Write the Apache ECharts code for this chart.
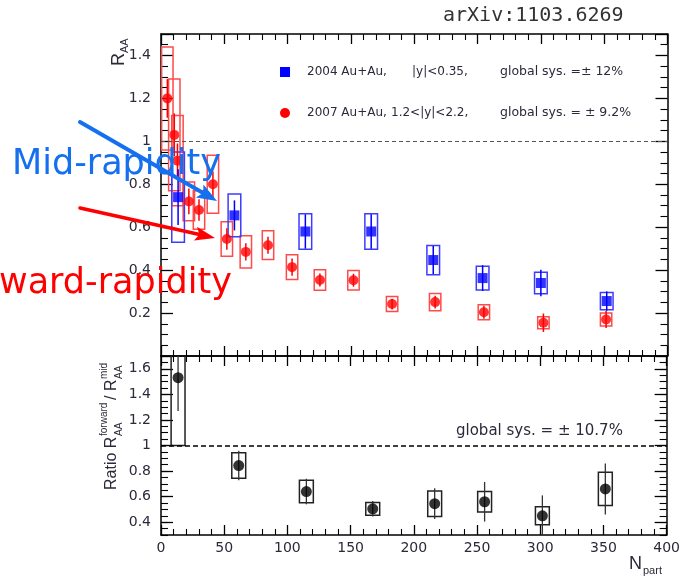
<!DOCTYPE html>
<html>
<head>
<meta charset="utf-8">
<script src="https://cdn.jsdelivr.net/npm/echarts@6/dist/echarts.min.js"></script>
<style>
  html, body { margin: 0; padding: 0; background: #fff; }
  #chart { width: 683px; height: 581px; }
</style>
</head>
<body>
<div id="chart"></div>
<script>
// 2004 Au+Au, |y|<0.35 (mid rapidity)
const midNpart = [13.5, 58, 114, 166, 215, 254, 300, 352];
const midRaa   = [0.74, 0.655, 0.58, 0.58, 0.447, 0.363, 0.34, 0.256];
const midStat  = [0.13, 0.07, 0.08, 0.08, 0.065, 0.06, 0.062, 0.045];
const midSys   = [0.21, 0.10, 0.083, 0.083, 0.068, 0.055, 0.05, 0.04];

// 2007 Au+Au, 1.2<|y|<2.2 (forward rapidity)
const fwdNpart = [5, 10.5, 13, 22, 30, 41, 52, 67, 84.5, 103.5, 125.5, 152, 182.5, 216.5, 255, 302, 351.5];
const fwdRaa   = [1.20, 1.03, 0.91, 0.72, 0.68, 0.80, 0.545, 0.485, 0.516, 0.414, 0.354, 0.353, 0.242, 0.251, 0.204, 0.155, 0.17];
const fwdStat  = [0.09, 0.10, 0.08, 0.06, 0.05, 0.06, 0.05, 0.04, 0.04, 0.04, 0.03, 0.03, 0.025, 0.03, 0.03, 0.043, 0.04];
const fwdSys   = [0.24, 0.26, 0.21, 0.09, 0.09, 0.135, 0.08, 0.075, 0.067, 0.058, 0.048, 0.045, 0.035, 0.04, 0.035, 0.028, 0.03];

// forward / mid ratio
const ratioNpart = [13.5, 61.5, 115, 167.5, 216.5, 256, 301.7, 351.5];
const ratioVal   = [1.53, 0.843, 0.64, 0.505, 0.545, 0.56, 0.45, 0.66];
const ratioStat  = [0.26, 0.115, 0.10, 0.06, 0.12, 0.155, 0.16, 0.20];
const ratioSys   = [0.53, 0.10, 0.088, 0.05, 0.10, 0.08, 0.07, 0.13];

// axis ticks
const ratioYTicks = [0.4, 0.6, 0.8, 1.0, 1.2, 1.4, 1.6];
const ratioYMinor = [0.3, 0.35, 0.4, 0.45, 0.5, 0.55, 0.6, 0.65, 0.7, 0.75, 0.8, 0.85, 0.9, 0.95, 1.0,
                     1.05, 1.1, 1.15, 1.2, 1.25, 1.3, 1.35, 1.4, 1.45, 1.5, 1.55, 1.6, 1.65, 1.7];

const FONT = 'DejaVu Sans';
const TXT = '#2a2a3a';
const BLUE = '#0000ff', RED = '#ff0000', BLACK = '#000';
const GRID_L = 161, GRID_W = 506.5;

const chart = echarts.init(document.getElementById('chart'), null, { renderer: 'canvas' });

function xAx(grid, pos, labels) {
  return {
    type: 'value', gridIndex: grid, position: pos, min: 0, max: 400, interval: 50,
    axisLine: { show: true, onZero: false, lineStyle: { color: BLACK, width: 1.5 } },
    axisTick: { show: true, inside: true, length: 10, lineStyle: { color: BLACK, width: 1.3 } },
    minorTick: { show: true, splitNumber: 5, length: 6, lineStyle: { color: BLACK, width: 1.1 } },
    axisLabel: { show: labels, margin: 6, color: TXT, fontSize: 14, fontFamily: FONT },
    splitLine: { show: false }, minorSplitLine: { show: false }
  };
}

function topY(pos, labels) {
  return {
    type: 'value', gridIndex: 0, position: pos, min: 0, max: 1.5, interval: 0.2,
    axisLine: { show: true, onZero: false, lineStyle: { color: BLACK, width: 1.5 } },
    axisTick: { show: true, inside: true, length: 12, lineStyle: { color: BLACK, width: 1.3 } },
    minorTick: { show: true, splitNumber: 4, length: 7, lineStyle: { color: BLACK, width: 1.1 } },
    axisLabel: { show: labels, margin: 10, color: TXT, fontSize: 14, fontFamily: FONT,
                 showMinLabel: false, showMaxLabel: false },
    splitLine: { show: false }, minorSplitLine: { show: false }
  };
}

function ratioY(pos, labels) {
  return {
    type: 'value', gridIndex: 1, position: pos, min: 0.3, max: 1.7,
    axisLine: { show: true, onZero: false, lineStyle: { color: BLACK, width: 1.5 } },
    axisTick: { show: true, inside: true, length: 12, customValues: ratioYTicks, lineStyle: { color: BLACK, width: 1.3 } },
    axisLabel: { show: labels, margin: 10, color: TXT, fontSize: 14, fontFamily: FONT, customValues: ratioYTicks },
    splitLine: { show: false }
  };
}

function ratioYMinorAxis(pos) {
  return {
    type: 'value', gridIndex: 1, position: pos, min: 0.3, max: 1.7,
    axisLine: { show: false, onZero: false },
    axisTick: { show: true, inside: true, length: 7, customValues: ratioYMinor, lineStyle: { color: BLACK, width: 1.1 } },
    axisLabel: { show: false },
    splitLine: { show: false }
  };
}

// systematic-uncertainty boxes
function boxSeries(xs, ys, sys, halfW, color, lw, xi, yi) {
  return {
    type: 'custom', xAxisIndex: xi, yAxisIndex: yi, clip: true, z: 2, silent: true,
    data: xs.map((x, i) => [x, ys[i], sys[i]]),
    renderItem(params, api) {
      const x = api.value(0), y = api.value(1), s = api.value(2);
      const p1 = api.coord([x - halfW, y + s]);
      const p2 = api.coord([x + halfW, y - s]);
      return {
        type: 'rect',
        shape: { x: p1[0], y: p1[1], width: p2[0] - p1[0], height: p2[1] - p1[1] },
        style: { fill: 'none', stroke: color, lineWidth: lw }
      };
    }
  };
}

// statistical error bars
function errSeries(xs, ys, err, color, lw, xi, yi) {
  return {
    type: 'custom', xAxisIndex: xi, yAxisIndex: yi, clip: true, z: 3, silent: true,
    data: xs.map((x, i) => [x, ys[i], err[i]]),
    renderItem(params, api) {
      const x = api.value(0), y = api.value(1), e = api.value(2);
      const a = api.coord([x, y + e]);
      const b = api.coord([x, y - e]);
      return {
        type: 'line',
        shape: { x1: a[0], y1: a[1], x2: b[0], y2: b[1] },
        style: { stroke: color, lineWidth: lw }
      };
    }
  };
}

function arrow(x1, y1, x2, y2, color, width, headLen, headW) {
  const ang = Math.atan2(y2 - y1, x2 - x1);
  const c = Math.cos(ang), s = Math.sin(ang);
  const bx = x2 - headLen * c, by = y2 - headLen * s;
  const nx = -s, ny = c;
  return [
    { type: 'line', z: 100, shape: { x1: x1, y1: y1, x2: bx + c * 3, y2: by + s * 3 },
      style: { stroke: color, lineWidth: width, lineCap: 'round' } },
    { type: 'polygon', z: 100,
      shape: { points: [[x2, y2], [bx + nx * headW / 2, by + ny * headW / 2], [bx + c * 4, by + s * 4], [bx - nx * headW / 2, by - ny * headW / 2]] },
      style: { fill: color } }
  ];
}

function txt(x, y, text, size, color, family, extra) {
  return Object.assign({
    type: 'text', x: x, y: y, z: 90,
    style: Object.assign({
      text: text, fill: color, fontSize: size, fontFamily: family || FONT,
      align: 'left', textAlign: 'left', verticalAlign: 'middle', textVerticalAlign: 'middle'
    }, (extra && extra.style) || {})
  }, (extra && extra.el) || {});
}

const graphics = [
  // header
  txt(443, 16, 'arXiv:1103.6269', 20, '#333', 'DejaVu Sans Mono'),
  // legend
  { type: 'rect', z: 90, shape: { x: 280, y: 67, width: 10, height: 10 }, style: { fill: BLUE } },
  { type: 'circle', z: 90, shape: { cx: 285, cy: 113, r: 5 }, style: { fill: RED } },
  txt(307, 72, '2004 Au+Au,', 12, TXT),
  txt(412, 72, '|y|<0.35,', 12, TXT),
  txt(500, 72, 'global sys. =\u00b1 12%', 12.5, TXT),
  txt(307, 113, '2007 Au+Au,', 12, TXT),
  txt(391, 113, '1.2<|y|<2.2,', 12, TXT),
  txt(500, 113, 'global sys. = \u00b1 9.2%', 12.5, TXT),
  txt(456, 431, 'global sys. = \u00b1 10.7%', 15, TXT),
  // axis titles
  txt(629, 564, 'N', 18, TXT, 'Liberation Sans'),
  txt(643, 571, 'part', 11, TXT, 'Liberation Sans'),
  {
    type: 'group', x: 119, y: 66, rotation: Math.PI / 2, z: 90,
    children: [
      txt(0, 0, 'R', 18, TXT, 'Liberation Sans'),
      txt(13, 6, 'AA', 11, TXT, 'Liberation Sans')
    ]
  },
  {
    type: 'group', x: 112, y: 490, rotation: Math.PI / 2, z: 90,
    children: [
      txt(0, 0, 'Ratio R', 16, TXT, 'Liberation Sans'),
      txt(54, -8, 'forward', 10, TXT, 'Liberation Sans'),
      txt(54, 7, 'AA', 10, TXT, 'Liberation Sans'),
      txt(90, 0, '/ R', 16, TXT, 'Liberation Sans'),
      txt(111, -8, 'mid', 10, TXT, 'Liberation Sans'),
      txt(111, 7, 'AA', 10, TXT, 'Liberation Sans')
    ]
  },
  // annotations
  txt(12, 165, 'Mid-rapidity', 35, '#1570ef', FONT, { el: { z: 95 } }),
  txt(-1, 284, 'ward-rapidity', 35, RED, FONT, { el: { z: 95 } })
].concat(
  arrow(80, 122, 217, 201, '#1570ef', 4, 20, 15),
  arrow(80, 208, 215, 238, RED, 3.5, 20, 14)
);

const option = {
  animation: false,
  backgroundColor: '#fff',
  grid: [
    { left: GRID_L, top: 34, width: GRID_W, height: 322 },
    { left: GRID_L, top: 356, width: GRID_W, height: 179 }
  ],
  xAxis: [xAx(0, 'bottom', false), xAx(0, 'top', false), xAx(1, 'bottom', true), xAx(1, 'top', false)],
  yAxis: [topY('left', true), topY('right', false),
          ratioY('left', true), ratioY('right', false),
          ratioYMinorAxis('left'), ratioYMinorAxis('right')],
  series: [
    boxSeries(fwdNpart, fwdRaa, fwdSys, 4.5, '#ff4a4a', 1.5, 0, 0),
    boxSeries(midNpart, midRaa, midSys, 5, '#3c3cff', 1.5, 0, 0),
    errSeries(fwdNpart, fwdRaa, fwdStat, RED, 1.5, 0, 0),
    errSeries(midNpart, midRaa, midStat, BLUE, 1.5, 0, 0),
    {
      type: 'scatter', xAxisIndex: 0, yAxisIndex: 0, symbol: 'circle', symbolSize: 10, z: 5,
      itemStyle: { color: RED }, silent: true,
      data: fwdNpart.map((x, i) => [x, fwdRaa[i]]),
      markLine: { silent: true, symbol: 'none', label: { show: false },
        lineStyle: { color: '#555', width: 1, type: [4, 3] }, data: [{ yAxis: 1 }] }
    },
    {
      type: 'scatter', xAxisIndex: 0, yAxisIndex: 0, symbol: 'rect', symbolSize: 10, z: 6,
      itemStyle: { color: BLUE }, silent: true,
      data: midNpart.map((x, i) => [x, midRaa[i]])
    },
    boxSeries(ratioNpart, ratioVal, ratioSys, 5.5, '#222', 1.5, 2, 2),
    errSeries(ratioNpart, ratioVal, ratioStat, '#333', 1.3, 2, 2),
    {
      type: 'scatter', xAxisIndex: 2, yAxisIndex: 2, symbol: 'circle', symbolSize: 11, z: 5,
      itemStyle: { color: BLACK }, silent: true,
      data: ratioNpart.map((x, i) => [x, ratioVal[i]]),
      markLine: { silent: true, symbol: 'none', label: { show: false },
        lineStyle: { color: BLACK, width: 1.5, type: [5, 3] }, data: [{ yAxis: 1 }] }
    }
  ],
  graphic: graphics
};

chart.setOption(option);
</script>
</body>
</html>
